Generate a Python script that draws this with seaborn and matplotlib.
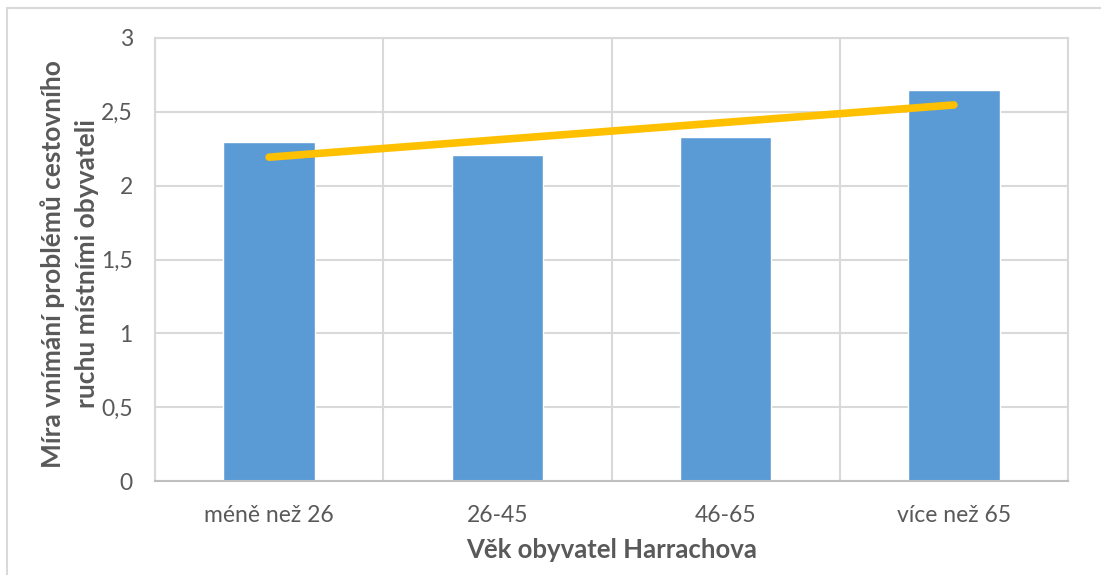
import matplotlib
matplotlib.use('Agg')
import matplotlib.pyplot as plt
import numpy as np
import pandas as pd
import seaborn as sns
from matplotlib.lines import Line2D
from matplotlib.ticker import FuncFormatter

categories = ['méně než 26', '26-45', '46-65', 'více než 65']
values = [2.295, 2.207, 2.33, 2.647]
y_ticks = [0, 0.5, 1, 1.5, 2, 2.5, 3]

x_label = 'Věk obyvatel Harrachova'
y_label = 'Míra vnímání problémů cestovního\nruchu místními obyvateli'

sns.set_theme(style='white')
plt.rcParams['font.family'] = ['Lato', 'DejaVu Sans']

df = pd.DataFrame({'kategorie': categories, 'hodnota': values})

fig = plt.figure(figsize=(11.01, 5.75), dpi=100)
ax = fig.add_axes([155 / 1101, 1 - 481 / 575, (1068 - 155) / 1101, (481 - 38) / 575])

sns.barplot(data=df, x='kategorie', y='hodnota', color='#5B9BD5', width=0.4,
            saturation=1, ax=ax, zorder=2)

# linear trendline (like Excel)
xs = np.arange(len(values))
k, q = np.polyfit(xs, values, 1)
ax.plot(xs, k * xs + q, color='#FFC000', lw=5.5, solid_capstyle='round', zorder=3)

ax.set_ylim(0, 3)
ax.set_xlim(-0.5, len(categories) - 0.5)
ax.set_yticks(y_ticks)
ax.yaxis.set_major_formatter(FuncFormatter(lambda v, p: f'{v:g}'.replace('.', ',')))
ax.set_xticks(np.arange(len(categories) + 1) - 0.5, minor=True)
ax.grid(axis='y', color='#D9D9D9', lw=1.5, zorder=0)
ax.grid(axis='x', which='minor', color='#D9D9D9', lw=1.5, zorder=0)
ax.tick_params(axis='both', which='both', length=0, labelsize=16.5, colors='#595959')
ax.tick_params(axis='x', pad=17)
ax.tick_params(axis='y', pad=16)

for side in ['top', 'right', 'left']:
    ax.spines[side].set_color('#D9D9D9')
    ax.spines[side].set_linewidth(1.5)
ax.spines['bottom'].set_color('#BFBFBF')
ax.spines['bottom'].set_linewidth(1.5)

ax.set_xlabel(x_label, fontsize=18.5, fontweight='bold', color='#595959', labelpad=9)
ax.set_ylabel(y_label, fontsize=19, fontweight='bold', color='#595959',
              linespacing=1.5)
ax.yaxis.set_label_coords(-56 / 913, 0.49)

# outer chart frame (cropped: only top and left visible)
fig.add_artist(Line2D([7 / 1101, 7 / 1101], [0, 1 - 8 / 575], color='#D9D9D9', lw=1.5,
                      transform=fig.transFigure))
fig.add_artist(Line2D([7 / 1101, 1], [1 - 8 / 575, 1 - 8 / 575], color='#D9D9D9', lw=1.5,
                      transform=fig.transFigure))

fig.savefig('out.png', dpi=100)
plt.close('all')
